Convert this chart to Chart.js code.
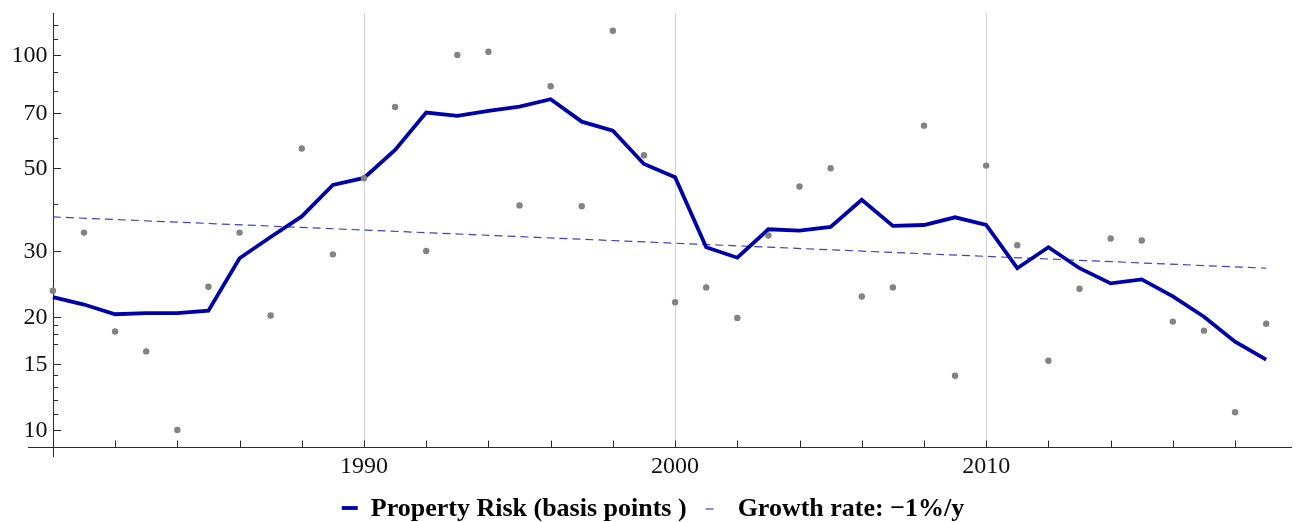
<!DOCTYPE html>
<html>
<head>
<meta charset="utf-8">
<script src="https://cdn.jsdelivr.net/npm/chart.js@4/dist/chart.umd.min.js"></script>
<style>
  html, body { margin: 0; padding: 0; background: #ffffff; }
  #wrap { width: 1296px; height: 522px; }
</style>
</head>
<body>
<div id="wrap"><canvas id="chart" width="1296" height="522"></canvas></div>
<script>
// Years covered by the series
const years = [1980, 1981, 1982, 1983, 1984, 1985, 1986, 1987, 1988, 1989,
               1990, 1991, 1992, 1993, 1994, 1995, 1996, 1997, 1998, 1999,
               2000, 2001, 2002, 2003, 2004, 2005, 2006, 2007, 2008, 2009,
               2010, 2011, 2012, 2013, 2014, 2015, 2016, 2017, 2018, 2019];

// Smoothed property risk (basis points)
const riskSmoothed = [22.6, 21.6, 20.35, 20.5, 20.5, 20.8, 28.7, 32.7, 37.1, 45.0,
                      47.0, 55.8, 70.2, 68.8, 70.9, 72.8, 76.2, 66.4, 62.8, 51.2,
                      47.2, 30.7, 28.8, 34.3, 34.0, 34.8, 41.1, 35.0, 35.2, 36.9,
                      35.2, 27.0, 30.7, 27.0, 24.6, 25.2, 22.7, 20.05, 17.2, 15.4];

// Yearly observations (basis points)
const riskAnnual = [23.5, 33.6, 18.3, 16.2, 10.0, 24.1, 33.6, 20.2, 56.3, 29.4,
                    46.9, 72.7, 30.0, 100.0, 102.0, 39.7, 82.5, 39.5, 116.0, 54.0,
                    21.9, 24.0, 19.9, 33.0, 44.6, 49.9, 22.7, 24.0, 64.8, 13.95,
                    50.7, 31.1, 15.3, 23.8, 32.4, 32.0, 19.45, 18.4, 11.15, 19.2];

// Fitted exponential trend (end points)
const trendYears = [1980, 2019];
const trendValues = [37.0, 27.0];

// Axis ticks
const yMajorTicks = [10, 15, 20, 30, 50, 70, 100];
const yMinorTicks = [11, 12, 13, 14, 17, 18, 19, 40, 60, 80, 90, 110, 120];
const xMajorTicks = [1990, 2000, 2010];
const xMinorTicks = [1980, 1982, 1984, 1986, 1988, 1992, 1994, 1996, 1998,
                     2002, 2004, 2006, 2008, 2012, 2014, 2016, 2018];

// Legend texts
const legendLabels = ['Property Risk (basis points )', 'Growth rate: \u22121%/y'];

const LINE_COLOR = '#0000a8';
const TREND_COLOR = 'rgba(30, 30, 185, 0.85)';
const DOT_COLOR = '#838383';
const AXIS_COLOR = '#2b2b2b';
const GRID_COLOR = '#d4d4d4';
const NUM_FONT = '24px "Liberation Serif", "Times New Roman", serif';
const LEGEND_FONT = 'bold 26px "Liberation Serif", "Times New Roman", serif';

const X_ORIGIN = 1980;  // where the vertical axis sits
const Y_ORIGIN = 9;     // where the horizontal axis sits

const axesPlugin = {
  id: 'mmaAxes',
  beforeDatasetsDraw(chart) {
    const { ctx, chartArea, scales } = chart;
    const xs = scales.x, ys = scales.y;
    const axisY = Math.round(ys.getPixelForValue(Y_ORIGIN)) + 0.5;
    const axisX = Math.round(xs.getPixelForValue(X_ORIGIN)) + 0.5;
    ctx.save();

    // vertical grid lines at the labelled years
    ctx.strokeStyle = GRID_COLOR;
    ctx.lineWidth = 1.2;
    xMajorTicks.forEach(v => {
      const px = Math.round(xs.getPixelForValue(v)) + 0.5;
      ctx.beginPath();
      ctx.moveTo(px, chartArea.top);
      ctx.lineTo(px, axisY);
      ctx.stroke();
    });

    // axis lines
    ctx.strokeStyle = AXIS_COLOR;
    ctx.lineWidth = 1;
    ctx.beginPath();
    ctx.moveTo(chartArea.left, axisY);
    ctx.lineTo(chartArea.right, axisY);
    ctx.moveTo(axisX, chartArea.top);
    ctx.lineTo(axisX, chartArea.bottom);
    ctx.stroke();

    // ticks pointing into the plot
    ctx.beginPath();
    xMajorTicks.concat(xMinorTicks).forEach(v => {
      const px = Math.round(xs.getPixelForValue(v)) + 0.5;
      ctx.moveTo(px, axisY);
      ctx.lineTo(px, axisY - 7);
    });
    yMajorTicks.forEach(v => {
      const py = Math.round(ys.getPixelForValue(v)) + 0.5;
      ctx.moveTo(axisX, py);
      ctx.lineTo(axisX + 7.5, py);
    });
    yMinorTicks.forEach(v => {
      const py = Math.round(ys.getPixelForValue(v)) + 0.5;
      ctx.moveTo(axisX, py);
      ctx.lineTo(axisX + 4.5, py);
    });
    ctx.stroke();

    // tick labels
    ctx.fillStyle = '#111111';
    ctx.font = NUM_FONT;
    ctx.textBaseline = 'alphabetic';
    ctx.textAlign = 'right';
    yMajorTicks.forEach(v => {
      const py = ys.getPixelForValue(v);
      ctx.fillText(String(v), axisX - 6, py + 7);
    });
    ctx.textAlign = 'center';
    xMajorTicks.forEach(v => {
      const px = xs.getPixelForValue(v);
      ctx.fillText(String(v), px, axisY + 25);
    });
    ctx.restore();
  },
  afterDraw(chart) {
    const { ctx } = chart;
    const main = chart.data.datasets[1];
    const trend = chart.data.datasets[2];
    ctx.save();
    ctx.font = LEGEND_FONT;
    const w1 = ctx.measureText(legendLabels[0]).width;
    const w2 = ctx.measureText(legendLabels[1]).width;
    const s1 = 16, g1 = 13, gap = 19, s2 = 8, g2 = 24;
    const total = s1 + g1 + w1 + gap + s2 + g2 + w2;
    let x = 653 - total / 2;
    const baseY = 516;
    const lineY = 508;

    ctx.strokeStyle = main.borderColor;
    ctx.lineWidth = main.borderWidth;
    ctx.beginPath();
    ctx.moveTo(x, lineY);
    ctx.lineTo(x + s1, lineY);
    ctx.stroke();
    x += s1 + g1;
    ctx.fillStyle = '#000000';
    ctx.textAlign = 'left';
    ctx.textBaseline = 'alphabetic';
    ctx.fillText(legendLabels[0], x, baseY);
    x += w1 + gap;

    ctx.strokeStyle = trend.borderColor;
    ctx.lineWidth = trend.borderWidth;
    ctx.beginPath();
    ctx.moveTo(x, lineY + 1);
    ctx.lineTo(x + s2, lineY + 1);
    ctx.stroke();
    x += s2 + g2;
    ctx.fillText(legendLabels[1], x, baseY);
    ctx.restore();
  }
};

const toPoints = (xsArr, ysArr) => xsArr.map((v, i) => ({ x: v, y: ysArr[i] }));

new Chart(document.getElementById('chart'), {
  type: 'line',
  data: {
    datasets: [
      {
        label: 'Yearly',
        data: toPoints(years, riskAnnual),
        showLine: false,
        pointRadius: 3.2,
        pointBackgroundColor: DOT_COLOR,
        pointBorderWidth: 0,
        borderColor: DOT_COLOR
      },
      {
        label: legendLabels[0],
        data: toPoints(years, riskSmoothed),
        borderColor: LINE_COLOR,
        borderWidth: 3.8,
        pointRadius: 0,
        tension: 0,
        borderJoinStyle: 'miter'
      },
      {
        label: legendLabels[1],
        data: toPoints(trendYears, trendValues),
        borderColor: TREND_COLOR,
        borderWidth: 1.2,
        borderDash: [8, 5],
        pointRadius: 0,
        tension: 0
      }
    ]
  },
  options: {
    responsive: false,
    animation: false,
    layout: { padding: { left: 28, right: 1, top: 13, bottom: 65 } },
    plugins: { legend: { display: false }, tooltip: { enabled: false } },
    scales: {
      x: { type: 'linear', min: 1979.2, max: 2019.83, display: false },
      y: { type: 'logarithmic', min: 8.47, max: 129.4, display: false }
    }
  },
  plugins: [axesPlugin]
});
</script>
</body>
</html>
